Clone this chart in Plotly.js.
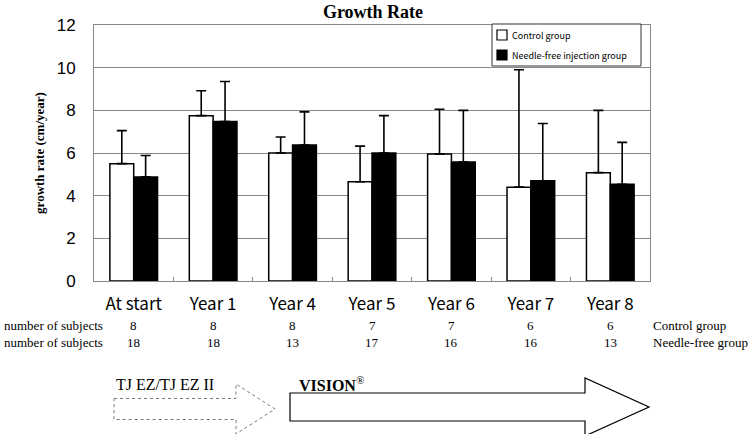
<!DOCTYPE html>
<html>
<head>
<meta charset="utf-8">
<script src="https://cdn.plot.ly/plotly-3.0.1.min.js"></script>
<style>html,body{margin:0;padding:0;background:#fff;}#chart{width:753px;height:434px;}</style>
</head>
<body>
<div id="chart"></div>
<script>
const categories = ["At start", "Year 1", "Year 4", "Year 5", "Year 6", "Year 7", "Year 8"];
const controlMean = [5.5, 7.75, 6.0, 4.65, 5.95, 4.4, 5.08];
const controlSD = [1.55, 1.17, 0.75, 1.67, 2.1, 5.5, 2.92];
const needleMean = [4.88, 7.48, 6.37, 6.0, 5.58, 4.7, 4.53];
const needleSD = [1.0, 1.87, 1.56, 1.75, 2.42, 2.68, 1.97];
const controlN = [8, 8, 8, 7, 7, 6, 6];
const needleN = [18, 18, 13, 17, 16, 16, 13];
const yTicks = [0, 2, 4, 6, 8, 10, 12];
const seriesNames = ["Control group", "Needle-free injection group"];
const seriesColors = ["#ffffff", "#000000"];

// plot area in pixels
const L = 94, R = 650, T = 25, B = 281;
const px = x => (x - L) / (R - L);
const py = y => (B - y) / (B - T);

const serif = "Liberation Serif, Times New Roman, serif";
const gothic = "Noto Sans CJK JP, sans-serif";

const traces = [
  {
    type: "bar", name: seriesNames[0], x: categories, y: controlMean, showlegend: false,
    marker: {color: seriesColors[0], line: {color: "#000", width: 1.5}},
    error_y: {type: "data", array: controlSD, arrayminus: controlN.map(() => 0), symmetric: false, color: "#000", thickness: 1.6, width: 5}
  },
  {
    type: "bar", name: seriesNames[1], x: categories, y: needleMean, showlegend: false,
    marker: {color: seriesColors[1], line: {color: "#000", width: 1.5}},
    error_y: {type: "data", array: needleSD, arrayminus: needleN.map(() => 0), symmetric: false, color: "#000", thickness: 1.6, width: 5}
  }
];

const txt = (x, y, text, anchor, font, xref) => ({xref: xref || "paper", yref: "paper", x: x, y: y, text: text, showarrow: false, xanchor: anchor, yanchor: "middle", font: font});
const rowFont = {family: serif, size: 13, color: "#000"};

const annotations = [];
annotations.push(txt(px(2), py(325), "number of subjects", "left", rowFont));
annotations.push(txt(px(2), py(342), "number of subjects", "left", rowFont));
categories.forEach((c, i) => {
  annotations.push(txt(c, py(325), String(controlN[i]), "center", rowFont, "x"));
  annotations.push(txt(c, py(342), String(needleN[i]), "center", rowFont, "x"));
});
annotations.push(txt(px(651), py(325), "Control group", "left", rowFont));
annotations.push(txt(px(651), py(342), "Needle-free group", "left", rowFont));
annotations.push(txt(px(114), py(384), "TJ EZ/TJ EZ II", "left", {family: serif, size: 16, color: "#000"}));
annotations.push(txt(px(297), py(384), "<b>VISION</b><sup>®</sup>", "left", {family: serif, size: 16, color: "#000"}));
// legend entries
const legFont = {family: gothic, size: 9, color: "#000"};
annotations.push(txt(px(510), py(35), seriesNames[0], "left", legFont));
annotations.push(txt(px(510), py(55), seriesNames[1], "left", legFont));

function arrowPath(x1, xb, xt, yc, hs, hh) {
  return "M" + px(x1) + "," + py(yc - hs) +
    " L" + px(xb) + "," + py(yc - hs) +
    " L" + px(xb) + "," + py(yc - hh) +
    " L" + px(xt) + "," + py(yc) +
    " L" + px(xb) + "," + py(yc + hh) +
    " L" + px(xb) + "," + py(yc + hs) +
    " L" + px(x1) + "," + py(yc + hs) + " Z";
}

const rectP = (x0, y0, x1, y1, fill, lc, lw) => ({type: "rect", xref: "paper", yref: "paper", x0: px(x0), x1: px(x1), y0: py(y0), y1: py(y1), fillcolor: fill, line: {color: lc, width: lw}});

const shapes = [
  {type: "path", xref: "paper", yref: "paper", path: arrowPath(114, 236, 275, 409, 10.5, 25), line: {color: "#777", width: 1, dash: "dot"}, fillcolor: "rgba(0,0,0,0)"},
  {type: "path", xref: "paper", yref: "paper", path: arrowPath(290, 585, 649, 407, 14, 29), line: {color: "#000", width: 1.2}, fillcolor: "rgba(0,0,0,0)"},
  rectP(492, 24, 641, 66, "#ffffff", "#333", 1),
  rectP(497, 30, 507, 40, seriesColors[0], "#000", 1.2),
  rectP(497, 50, 507, 60, seriesColors[1], "#000", 1.2)
];

const layout = {
  width: 753, height: 434,
  margin: {l: L, r: 753 - R, t: T, b: 434 - B, pad: 0},
  paper_bgcolor: "#fff", plot_bgcolor: "#fff",
  title: {text: "<b>Growth Rate</b>", x: 373 / 753, xanchor: "center", xref: "container", y: 1 - 12 / 434, yanchor: "middle", yref: "container", font: {family: serif, size: 18, color: "#000"}},
  barmode: "group", bargap: 0.4, bargroupgap: 0,
  showlegend: false,
  xaxis: {
    type: "category", tickvals: categories, ticktext: categories,
    tickson: "boundaries", ticks: "inside", ticklen: 4, tickcolor: "#888", tickwidth: 1,
    showline: true, linecolor: "#888", linewidth: 1, mirror: true,
    showgrid: false, zeroline: false,
    tickfont: {family: gothic, size: 17, color: "#000"}, ticklabelstandoff: 8
  },
  yaxis: {
    range: [0, 12], tickvals: yTicks, ticktext: yTicks.map(String),
    showgrid: true, gridcolor: "#888", gridwidth: 1,
    showline: true, linecolor: "#888", linewidth: 1, mirror: true,
    zeroline: false, ticks: "",
    tickfont: {family: "Liberation Sans, Arial, sans-serif", size: 17, color: "#000"}, ticklabelstandoff: 14,
    title: {text: "<b>growth rate (cm/year)</b>", font: {family: serif, size: 13, color: "#000"}, standoff: 9}
  },
  annotations: annotations,
  shapes: shapes
};

Plotly.newPlot("chart", traces, layout, {displayModeBar: false, staticPlot: true});
</script>
</body>
</html>
